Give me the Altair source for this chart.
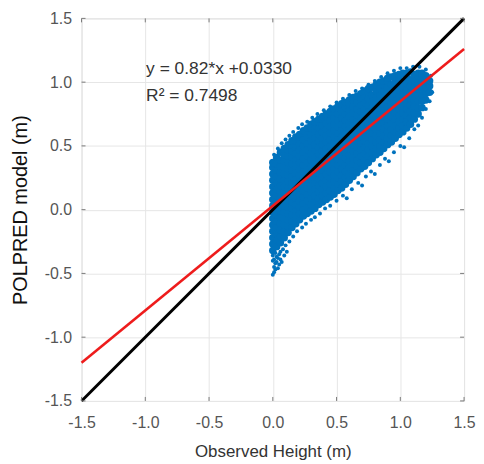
import altair as alt
import pandas as pd

# ---------------- data ----------------
tick_values = [-1.5, -1.0, -0.5, 0.0, 0.5, 1.0, 1.5]

x_title = "Observed Height (m)"
y_title = "POLPRED model (m)"
annot_lines = ["y = 0.82*x +0.0330", "R\u00b2 = 0.7498"]

# 1:1 line and fitted line end points
one_to_one_x = [-1.5, 1.5]
one_to_one_y = [-1.5, 1.5]
fit_x = [-1.5, 1.5]
fit_y = [-1.20, 1.26]

# dense scatter cloud, column by column (observed x -> model values)
cloud_cols = {
    0.00: [-0.32, -0.27, -0.22, -0.17, -0.12, -0.07, -0.02, 0.03, 0.08, 0.13, 0.18, 0.23, 0.28, 0.33, 0.37],
    0.03: [-0.29, -0.24, -0.19, -0.14, -0.09, -0.04, 0.01, 0.06, 0.11, 0.16, 0.21, 0.26, 0.31, 0.36, 0.41],
    0.06: [-0.26, -0.21, -0.16, -0.11, -0.06, -0.01, 0.04, 0.09, 0.14, 0.19, 0.24, 0.29, 0.34, 0.39, 0.45],
    0.09: [-0.22, -0.17, -0.12, -0.07, -0.02, 0.03, 0.08, 0.13, 0.18, 0.23, 0.28, 0.33, 0.38, 0.43, 0.48],
    0.12: [-0.18, -0.13, -0.08, -0.03, 0.02, 0.07, 0.12, 0.17, 0.22, 0.27, 0.32, 0.37, 0.42, 0.47, 0.51],
    0.15: [-0.14, -0.09, -0.04, 0.01, 0.06, 0.11, 0.16, 0.21, 0.26, 0.31, 0.36, 0.41, 0.46, 0.51, 0.54],
    0.18: [-0.11, -0.06, -0.01, 0.04, 0.09, 0.14, 0.19, 0.24, 0.29, 0.34, 0.39, 0.44, 0.49, 0.54, 0.57],
    0.21: [-0.08, -0.03, 0.02, 0.07, 0.12, 0.17, 0.22, 0.27, 0.32, 0.37, 0.42, 0.47, 0.52, 0.57, 0.59],
    0.24: [-0.05, 0.00, 0.05, 0.10, 0.15, 0.20, 0.25, 0.30, 0.35, 0.40, 0.45, 0.50, 0.55, 0.60, 0.62],
    0.27: [-0.03, 0.02, 0.07, 0.12, 0.17, 0.22, 0.27, 0.32, 0.37, 0.42, 0.47, 0.52, 0.57, 0.62, 0.64],
    0.30: [-0.01, 0.04, 0.09, 0.14, 0.19, 0.24, 0.29, 0.34, 0.39, 0.44, 0.49, 0.54, 0.59, 0.64, 0.67],
    0.33: [0.01, 0.06, 0.11, 0.16, 0.21, 0.26, 0.31, 0.36, 0.41, 0.46, 0.51, 0.56, 0.61, 0.66, 0.69],
    0.36: [0.04, 0.09, 0.14, 0.19, 0.24, 0.29, 0.34, 0.39, 0.44, 0.49, 0.54, 0.59, 0.64, 0.69, 0.71],
    0.39: [0.06, 0.11, 0.16, 0.21, 0.26, 0.31, 0.36, 0.41, 0.46, 0.51, 0.56, 0.61, 0.66, 0.71, 0.73],
    0.42: [0.08, 0.13, 0.18, 0.23, 0.28, 0.33, 0.38, 0.43, 0.48, 0.53, 0.58, 0.63, 0.68, 0.73, 0.75],
    0.45: [0.10, 0.15, 0.20, 0.25, 0.30, 0.35, 0.40, 0.45, 0.50, 0.55, 0.60, 0.65, 0.70, 0.75, 0.77],
    0.48: [0.12, 0.17, 0.22, 0.27, 0.32, 0.37, 0.42, 0.47, 0.52, 0.57, 0.62, 0.67, 0.72, 0.77, 0.79],
    0.51: [0.15, 0.20, 0.25, 0.30, 0.35, 0.40, 0.45, 0.50, 0.55, 0.60, 0.65, 0.70, 0.75, 0.80, 0.81],
    0.54: [0.17, 0.22, 0.27, 0.32, 0.37, 0.42, 0.47, 0.52, 0.57, 0.62, 0.67, 0.72, 0.77, 0.82, 0.83],
    0.57: [0.20, 0.25, 0.30, 0.35, 0.40, 0.45, 0.50, 0.55, 0.60, 0.65, 0.70, 0.75, 0.80, 0.84],
    0.60: [0.23, 0.28, 0.33, 0.38, 0.43, 0.48, 0.53, 0.58, 0.63, 0.68, 0.73, 0.78, 0.83, 0.86],
    0.63: [0.26, 0.31, 0.36, 0.41, 0.46, 0.51, 0.56, 0.61, 0.66, 0.71, 0.76, 0.81, 0.86, 0.88],
    0.66: [0.29, 0.34, 0.39, 0.44, 0.49, 0.54, 0.59, 0.64, 0.69, 0.74, 0.79, 0.84, 0.89],
    0.69: [0.32, 0.37, 0.42, 0.47, 0.52, 0.57, 0.62, 0.67, 0.72, 0.77, 0.82, 0.87, 0.91],
    0.72: [0.34, 0.39, 0.44, 0.49, 0.54, 0.59, 0.64, 0.69, 0.74, 0.79, 0.84, 0.89, 0.93],
    0.75: [0.37, 0.42, 0.47, 0.52, 0.57, 0.62, 0.67, 0.72, 0.77, 0.82, 0.87, 0.92, 0.95],
    0.78: [0.40, 0.45, 0.50, 0.55, 0.60, 0.65, 0.70, 0.75, 0.80, 0.85, 0.90, 0.96],
    0.81: [0.43, 0.48, 0.53, 0.58, 0.63, 0.68, 0.73, 0.78, 0.83, 0.88, 0.93, 0.98],
    0.84: [0.45, 0.50, 0.55, 0.60, 0.65, 0.70, 0.75, 0.80, 0.85, 0.90, 0.95, 1.00],
    0.87: [0.48, 0.53, 0.58, 0.63, 0.68, 0.73, 0.78, 0.83, 0.88, 0.93, 0.98, 1.01],
    0.90: [0.51, 0.56, 0.61, 0.66, 0.71, 0.76, 0.81, 0.86, 0.91, 0.96, 1.01, 1.03],
    0.93: [0.53, 0.58, 0.63, 0.68, 0.73, 0.78, 0.83, 0.88, 0.93, 0.98, 1.04],
    0.96: [0.56, 0.61, 0.66, 0.71, 0.76, 0.81, 0.86, 0.91, 0.96, 1.01, 1.05],
    0.99: [0.59, 0.64, 0.69, 0.74, 0.79, 0.84, 0.89, 0.94, 0.99, 1.04, 1.06],
    1.02: [0.61, 0.66, 0.71, 0.76, 0.81, 0.86, 0.91, 0.96, 1.01, 1.07],
    1.05: [0.64, 0.69, 0.74, 0.79, 0.84, 0.89, 0.94, 0.99, 1.04, 1.07],
    1.08: [0.67, 0.72, 0.77, 0.82, 0.87, 0.92, 0.97, 1.02, 1.08],
    1.11: [0.71, 0.76, 0.81, 0.86, 0.91, 0.96, 1.01, 1.06],
    1.14: [0.75, 0.80, 0.85, 0.90, 0.95, 1.00, 1.05, 1.07],
    1.17: [0.80, 0.85, 0.90, 0.95, 1.00, 1.05, 1.07],
    1.20: [0.86, 0.91, 0.96, 1.01, 1.05],
    1.23: [0.92, 0.97, 1.01],
}

# scattered points along the ragged edges of the cloud
edge_x = [0.00, 0.01, 0.00, 0.02, 0.04, 0.05, 0.08, 0.10, 0.13, 0.16, 0.19, 0.23, 0.26, 0.30,
          0.33, 0.37, 0.41, 0.45, 0.50, 0.55, 0.58, 0.62, 0.67, 0.70, 0.73, 0.77, 0.80, 0.84,
          0.88, 0.91, 0.95, 1.00, 1.03, 1.07, 1.11, 1.14, 1.17, 1.20, 1.23, 1.25, 1.24,
          0.01, 0.04, 0.07, 0.10, 0.13, 0.16, 0.20, 0.23, 0.27, 0.31, 0.35, 0.40, 0.45, 0.50,
          0.55, 0.60, 0.65, 0.70, 0.75, 0.80, 0.85, 0.90, 0.95, 1.00, 1.05, 1.10, 1.15, 1.20, 1.24,
          0.00, 0.01, 0.03, 0.02, 0.05, 0.06, 0.01, 0.04, 0.07, 0.09, 0.11, 0.03, 0.02, 0.06]
edge_y = [-0.40, -0.45, -0.51, -0.42, -0.38, -0.35, -0.31, -0.28, -0.25, -0.21, -0.17, -0.14, -0.11, -0.08,
          -0.06, -0.03, 0.01, 0.03, 0.07, 0.11, 0.09, 0.16, 0.21, 0.19, 0.26, 0.30, 0.28, 0.35,
          0.40, 0.38, 0.45, 0.50, 0.49, 0.56, 0.63, 0.66, 0.72, 0.79, 0.85, 0.92, 0.98,
          0.43, 0.48, 0.52, 0.55, 0.58, 0.61, 0.64, 0.67, 0.69, 0.72, 0.75, 0.78, 0.81, 0.84,
          0.87, 0.90, 0.93, 0.95, 0.98, 1.01, 1.04, 1.07, 1.09, 1.11, 1.11, 1.12, 1.12, 1.10, 1.05,
          -0.36, -0.39, -0.41, -0.47, -0.43, -0.39, -0.49, -0.46, -0.41, -0.36, -0.33, -0.37, -0.34, -0.33]

# ---------------- tables ----------------
core_x, core_y = [], []
for cx, ys in cloud_cols.items():
    for cy in ys:
        core_x.append(cx)
        core_y.append(cy)
core = pd.DataFrame({"obs": core_x, "model": core_y})
edge = pd.DataFrame({"obs": edge_x, "model": edge_y})

one_df = pd.DataFrame({"obs": one_to_one_x, "model": one_to_one_y})
fit_df = pd.DataFrame({"obs": fit_x, "model": fit_y})
ticks_df = pd.DataFrame({"t": tick_values})

FONT = "Liberation Sans"
W = 385
H = 385
FRAME = "#7a7a7a"
BLUE = "#0072BD"

label_expr = "replace(format(datum.value, '.1f'), '\u2212', '-')"

xscale = alt.Scale(domain=[-1.5, 1.5], nice=False, zero=False)
yscale = alt.Scale(domain=[-1.5, 1.5], nice=False, zero=False)

x_enc = alt.X(
    "obs:Q",
    scale=xscale,
    title=x_title,
    axis=alt.Axis(
        values=tick_values,
        labelExpr=label_expr,
        grid=True,
        gridColor="#e6e6e6",
        gridWidth=1,
        domain=False,
        ticks=False,
        labelFontSize=16,
        labelColor="#555555",
        labelFont=FONT,
        labelPadding=14,
        labelFlush=False,
        titleFont=FONT,
        titleFontSize=17,
        titleFontWeight="normal",
        titleColor="#333333",
        titlePadding=13,
    ),
)
y_enc = alt.Y(
    "model:Q",
    scale=yscale,
    title=y_title,
    axis=alt.Axis(
        values=tick_values,
        labelExpr=label_expr,
        grid=True,
        gridColor="#e6e6e6",
        gridWidth=1,
        domain=False,
        ticks=False,
        labelFontSize=16,
        labelColor="#555555",
        labelFont=FONT,
        labelPadding=10,
        labelFlush=False,
        titleFont=FONT,
        titleFontSize=20,
        titleFontWeight="normal",
        titleColor="#111111",
        titlePadding=14,
    ),
)

core_pts = alt.Chart(core).mark_circle(size=56, color=BLUE, opacity=1).encode(
    x=x_enc, y=y_enc
)
edge_pts = alt.Chart(edge).mark_circle(size=16, color=BLUE, opacity=1).encode(
    x=alt.X("obs:Q", scale=xscale), y=alt.Y("model:Q", scale=yscale)
)

black_line = alt.Chart(one_df).mark_line(color="#000000", strokeWidth=3).encode(
    x=alt.X("obs:Q", scale=xscale), y=alt.Y("model:Q", scale=yscale)
)
red_line = alt.Chart(fit_df).mark_line(color="#ee1c1c", strokeWidth=2.6).encode(
    x=alt.X("obs:Q", scale=xscale), y=alt.Y("model:Q", scale=yscale)
)

# inward tick marks on all four sides
tick_rule = alt.Chart(ticks_df).mark_rule(color=FRAME, strokeWidth=1)
ticks_bottom = tick_rule.encode(x=alt.X("t:Q", scale=xscale), y=alt.value(H), y2=alt.value(H - 4))
ticks_top = tick_rule.encode(x=alt.X("t:Q", scale=xscale), y=alt.value(0), y2=alt.value(4))
ticks_left = tick_rule.encode(y=alt.Y("t:Q", scale=yscale), x=alt.value(0), x2=alt.value(4))
ticks_right = tick_rule.encode(y=alt.Y("t:Q", scale=yscale), x=alt.value(W), x2=alt.value(W - 4))

annot1 = alt.Chart(pd.DataFrame({"label": [annot_lines[0]]})).mark_text(
    align="left", baseline="middle", fontSize=17.5, font=FONT, color="#333333"
).encode(text="label:N", x=alt.value(65), y=alt.value(51))
annot2 = alt.Chart(pd.DataFrame({"label": [annot_lines[1]]})).mark_text(
    align="left", baseline="middle", fontSize=17.5, font=FONT, color="#333333"
).encode(text="label:N", x=alt.value(65), y=alt.value(78))

chart = alt.layer(
    core_pts, edge_pts, black_line, red_line,
    ticks_bottom, ticks_top, ticks_left, ticks_right,
    annot1, annot2,
).properties(
    width=W,
    height=H,
    padding={"left": 74, "top": 9, "right": 12, "bottom": 60},
    autosize=alt.AutoSizeParams(type="none"),
).configure_view(
    stroke=FRAME, strokeWidth=1.4
).configure(background="white")

chart.save("out.html", embed_options={"renderer": "svg", "actions": False})
